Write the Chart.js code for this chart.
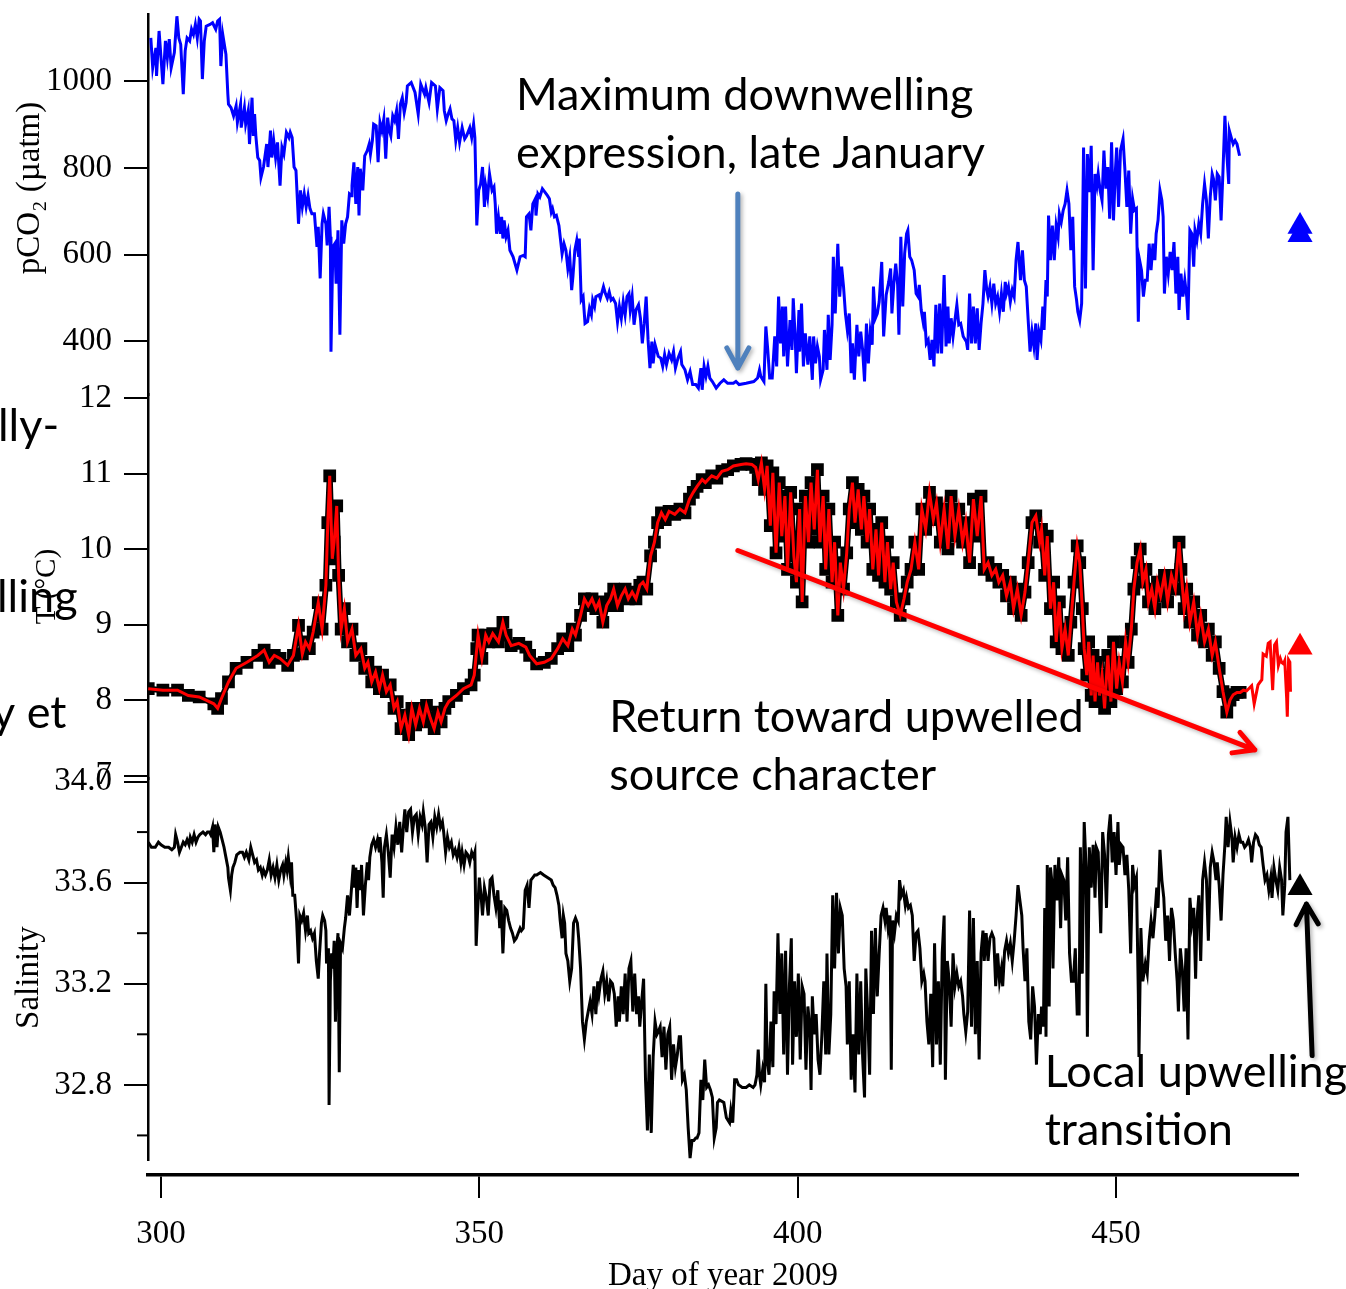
<!DOCTYPE html>
<html>
<head>
<meta charset="utf-8">
<title>pCO2, temperature and salinity, 2009</title>
<script src="https://cdn.jsdelivr.net/npm/chart.js@4.4.1/dist/chart.umd.min.js"></script>
<style>
  html, body { margin: 0; padding: 0; overflow: hidden; background: #fff; }
  #wrap { position: relative; width: 1346px; height: 1289px; overflow: hidden; }
  canvas { position: absolute; left: 0; top: 0; }
</style>
</head>
<body>
<div id="wrap"><canvas id="chart" width="1346" height="1300"></canvas></div>
<script>
// ─── DATA ─────────────────────────────────────────────────────────────
// [day of year 2009, value] pairs
const pco2Series = [
  [298.4,1100],[298.7,1031],[299.2,1077],[299.3,1012],[299.7,1116],[300.3,993],[300.7,1093],[301.0,1054],[301.3,1097],[301.6,1031],
  [302.1,1066],[302.5,1150],[302.8,1100],[303.1,1085],[303.5,970],[303.8,1070],[304.1,1100],[304.5,1093],[304.8,1120],[305.1,1108],
  [305.4,1131],[305.7,1100],[306.0,1143],[306.2,1139],[306.5,1005],[306.8,1093],[307.1,1127],[307.7,1131],[308.1,1135],[308.6,1120],
  [308.9,1139],[309.2,1143],[309.4,1035],[309.7,1108],[310.2,1062],[310.5,970],[310.6,947],[311.0,939],[311.4,920],[311.8,943],
  [312.0,905],[312.5,947],[312.6,893],[313.1,939],[313.3,901],[313.7,932],[313.9,855],[314.3,962],[314.5,874],[314.7,924],
  [314.9,874],[315.2,824],[315.5,817],[315.7,778],[316.1,802],[316.6,855],[316.8,802],[317.2,886],[317.4,824],[317.7,863],
  [318.0,824],[318.3,859],[318.7,759],[319.0,847],[319.3,832],[319.7,882],[320.1,870],[320.3,882],[320.6,870],[320.9,802],
  [321.2,794],[321.6,671],[321.9,748],[322.2,710],[322.5,740],[322.8,710],[323.1,736],[323.4,706],[323.7,694],[324.1,694],
  [324.5,618],[324.7,664],[325.0,545],[325.3,671],[325.5,694],[325.9,671],[326.1,621],[326.4,710],[326.6,641],[326.7,376],
  [327.0,618],[327.3,625],[327.5,533],[327.8,656],[328.1,415],[328.4,679],[328.7,625],[329.0,671],[329.3,687],[329.6,740],
  [329.9,736],[330.0,759],[330.3,813],[330.6,717],[330.9,802],[331.1,690],[331.3,798],[331.7,748],[332.0,828],[332.4,840],
  [332.7,855],[332.9,832],[333.2,863],[333.4,901],[333.8,897],[334.1,813],[334.4,905],[334.7,886],[335.0,913],[335.3,821],
  [335.6,916],[335.8,890],[336.1,874],[336.4,920],[336.7,909],[337.0,932],[337.3,867],[337.6,947],[337.9,962],[338.2,928],
  [338.5,951],[338.7,989],[339.3,997],[339.9,974],[340.4,924],[340.8,993],[341.4,970],[341.6,985],[342.1,951],[342.5,997],
  [343.1,989],[343.4,936],[343.8,985],[344.3,978],[344.5,932],[344.8,909],[345.1,924],[345.4,936],[345.7,913],[346.0,909],
  [346.3,863],[346.6,893],[346.9,859],[347.3,893],[347.7,867],[348.0,874],[348.5,893],[348.8,870],[349.1,901],[349.3,870],
  [349.6,667],[349.9,748],[350.2,763],[350.5,802],[350.8,710],[351.0,759],[351.3,733],[351.6,786],[352.0,748],[352.3,756],
  [352.5,717],[352.7,648],[353.0,687],[353.3,648],[353.5,687],[353.7,637],[353.9,679],[354.2,641],[354.5,656],[354.8,610],
  [355.3,595],[355.9,564],[356.4,595],[356.9,598],[357.2,595],[357.4,687],[357.8,694],[358.1,656],[358.4,717],[358.8,729],
  [358.9,690],[359.2,740],[359.5,733],[359.9,752],[360.3,744],[360.7,736],[361.0,729],[361.3,698],[361.5,706],[361.8,687],
  [362.1,690],[362.5,667],[363.0,602],[363.3,625],[363.6,610],[363.9,568],[364.2,595],[364.5,518],[364.7,549],[365.0,610],
  [365.3,633],[365.6,595],[365.7,637],[366.0,495],[366.3,503],[366.6,441],[367.0,445],[367.3,476],[367.6,461],[367.8,495],
  [368.1,480],[368.3,503],[368.8,507],[369.0,499],[369.5,526],[369.8,510],[370.1,499],[370.4,514],[370.7,495],[371.0,499],
  [371.4,487],[371.7,445],[372.0,480],[372.3,453],[372.6,491],[372.9,461],[373.2,503],[373.5,510],[373.7,472],[374.0,503],
  [374.3,438],[374.6,472],[375.0,484],[375.3,453],[375.6,395],[375.9,441],[376.2,503],[376.5,403],[376.8,338],[377.1,399],
  [377.3,349],[377.6,392],[378.1,365],[378.5,361],[378.8,342],[379.1,369],[379.4,346],[379.8,372],[380.2,357],[380.5,376],
  [380.8,338],[381.2,361],[381.6,376],[381.8,346],[382.3,334],[382.7,311],[383.1,330],[383.5,300],[384.0,300],[384.4,292],
  [384.8,338],[385.0,288],[385.3,342],[385.6,319],[385.9,342],[386.2,315],[386.6,307],[387.2,292],[387.8,303],[388.4,311],
  [389.0,303],[389.9,303],[390.3,307],[390.8,300],[391.9,303],[393.1,307],[393.7,315],[394.0,334],[394.2,319],[394.7,307],
  [395.0,434],[395.3,380],[395.6,315],[396.0,315],[396.4,411],[396.7,342],[397.0,503],[397.3,395],[397.6,480],[397.8,365],
  [398.1,480],[398.4,342],[398.8,449],[399.1,380],[399.3,499],[399.6,411],[399.8,326],[400.2,472],[400.3,376],[400.6,487],
  [400.9,342],[401.2,418],[401.6,346],[401.9,411],[402.3,311],[402.5,411],[402.8,349],[403.1,388],[403.4,365],[403.6,311],
  [404.0,334],[404.2,426],[404.6,334],[404.8,461],[405.1,357],[405.4,438],[405.6,595],[405.9,464],[406.3,625],[406.6,503],
  [406.9,572],[407.2,526],[407.5,464],[407.8,426],[408.1,464],[408.4,326],[408.6,395],[408.9,311],[409.3,438],[409.6,365],
  [409.9,422],[410.2,380],[410.5,307],[410.8,441],[411.1,349],[411.4,422],[411.7,392],[411.9,526],[412.2,453],[412.5,464],
  [412.8,491],[413.2,583],[413.5,411],[413.9,507],[414.3,537],[414.6,568],[414.8,464],[415.1,533],[415.4,579],[415.7,530],
  [415.9,415],[416.2,641],[416.5,480],[416.8,602],[417.1,648],[417.3,656],[417.6,595],[417.9,587],[418.3,564],[418.6,510],
  [418.9,503],[419.1,530],[419.4,472],[419.7,445],[419.9,468],[420.2,395],[420.5,403],[420.8,357],[421.1,403],[421.4,342],
  [421.7,484],[422.0,372],[422.3,487],[422.6,372],[423.0,553],[423.3,388],[423.6,480],[423.8,395],[424.1,453],[424.4,411],
  [424.7,449],[425.0,484],[425.3,438],[425.6,441],[426.0,411],[426.5,399],[426.7,380],[427.0,510],[427.3,395],[427.6,480],
  [427.9,395],[428.2,476],[428.5,380],[428.8,441],[429.1,487],[429.4,564],[429.7,518],[429.9,503],[430.2,526],[430.5,487],
  [430.8,533],[431.1,487],[431.4,503],[431.7,468],[432.0,510],[432.3,468],[432.6,537],[432.8,510],[433.1,526],[433.4,491],
  [433.7,518],[434.0,503],[434.3,587],[434.6,629],[435.0,541],[435.3,610],[435.6,541],[435.9,526],[436.2,449],[436.5,376],
  [436.8,422],[437.1,388],[437.4,441],[437.6,357],[437.9,422],[438.2,403],[438.5,480],[438.7,426],[439.0,541],[439.2,503],
  [439.4,690],[439.7,587],[440.0,667],[440.3,587],[440.6,667],[440.9,641],[441.1,694],[441.4,675],[441.7,702],[442.0,717],
  [442.3,748],[442.6,717],[442.9,610],[443.2,687],[443.5,526],[443.8,495],[444.0,468],[444.3,449],[444.6,487],[444.9,847],
  [445.2,522],[445.5,832],[445.8,744],[446.1,851],[446.4,564],[446.7,786],[447.0,759],[447.2,786],[447.5,748],[447.8,725],
  [448.1,840],[448.4,752],[448.7,802],[449.0,683],[449.3,859],[449.6,679],[449.9,794],[450.1,847],[450.4,710],[450.7,840],
  [451.1,867],[451.4,794],[451.7,710],[452.0,794],[452.3,648],[452.6,729],[452.9,702],[453.2,706],[453.5,445],[453.7,587],
  [454.0,564],[454.3,503],[454.6,541],[454.9,541],[455.2,625],[455.5,564],[455.8,625],[456.1,587],[456.3,648],[456.6,679],
  [456.9,748],[457.2,725],[457.4,687],[457.6,510],[457.9,595],[458.2,556],[458.5,606],[458.8,564],[459.1,629],[459.4,510],
  [459.7,595],[459.9,472],[460.2,556],[460.5,503],[460.8,541],[461.1,503],[461.3,449],[461.6,656],[461.9,648],[462.2,572],
  [462.4,656],[462.7,633],[463.0,671],[463.3,648],[463.6,717],[463.9,763],[464.2,725],[464.5,637],[464.8,733],[465.1,786],
  [465.3,775],[465.6,725],[465.9,786],[466.2,779],[466.5,679],[466.8,794],[467.1,920],[467.4,832],[467.7,763],[467.8,886],
  [468.1,870],[468.4,855],[468.7,863],[469.0,855],[469.4,828]
];

const tempSeries = [
  [298.0,8.15],[300.3,8.13],[302.6,8.13],[304.3,8.06],[306.0,8.04],[308.3,7.95],[308.9,7.89],[309.5,8.02],[310.6,8.24],[311.8,8.42],
  [313.5,8.50],[315.2,8.59],[316.2,8.66],[317.0,8.50],[317.8,8.59],[318.7,8.55],[319.9,8.46],[320.8,8.59],[321.6,8.99],[322.2,8.61],
  [322.7,8.77],[323.3,8.68],[323.9,8.90],[324.7,9.29],[325.3,8.94],[325.9,9.52],[326.2,10.35],[326.5,10.97],[326.9,9.87],[327.2,10.09],
  [327.6,10.57],[327.9,9.65],[328.3,8.94],[328.8,9.21],[329.3,8.77],[330.0,8.94],[330.6,8.59],[331.4,8.68],[332.0,8.42],[332.5,8.50],
  [333.1,8.24],[333.7,8.37],[334.3,8.15],[334.8,8.33],[335.4,8.11],[336.0,8.20],[336.6,7.89],[337.1,7.98],[337.7,7.62],[338.3,7.80],
  [338.9,7.54],[339.4,7.89],[340.0,7.67],[340.6,7.89],[341.2,7.71],[341.7,7.93],[342.3,7.76],[342.9,7.62],[343.5,7.84],[344.0,7.71],
  [344.6,7.89],[345.2,7.98],[346.4,8.06],[347.5,8.15],[348.7,8.20],[349.2,8.33],[349.6,8.68],[349.8,8.86],[350.4,8.55],[351.0,8.86],
  [351.5,8.77],[352.1,8.88],[353.0,8.77],[353.7,9.03],[354.2,8.86],[355.0,8.72],[356.2,8.75],[357.3,8.70],[357.9,8.59],[359.0,8.48],
  [360.2,8.50],[361.3,8.55],[362.3,8.68],[363.1,8.81],[363.9,8.72],[364.6,8.94],[365.1,8.86],[365.9,9.12],[366.5,9.34],[367.1,9.25],
  [367.7,9.34],[368.3,9.21],[368.8,9.30],[369.4,9.03],[370.0,9.25],[370.6,9.34],[371.1,9.47],[371.7,9.25],[372.3,9.38],[372.9,9.47],
  [373.4,9.34],[374.0,9.43],[374.6,9.34],[375.2,9.52],[375.7,9.56],[376.3,9.47],[376.9,9.91],[377.5,10.09],[378.0,10.35],[378.6,10.48],
  [379.2,10.39],[379.8,10.50],[380.7,10.46],[381.5,10.53],[382.3,10.48],[383.0,10.66],[383.6,10.75],[384.2,10.83],[385.0,10.92],[385.5,10.88],
  [386.5,10.97],[387.3,10.94],[388.1,11.03],[389.0,11.05],[389.9,11.10],[391.1,11.12],[391.9,11.13],[392.8,11.12],[393.4,11.08],[393.8,10.92],
  [394.3,11.14],[394.8,10.79],[395.2,11.10],[395.7,10.31],[396.1,11.01],[396.6,9.95],[397.1,10.88],[397.5,10.17],[398.0,10.70],[398.4,9.73],
  [398.9,10.75],[399.4,9.91],[399.8,9.56],[400.3,10.53],[400.7,9.30],[401.2,10.70],[401.7,10.09],[402.1,10.88],[402.6,10.26],[403.1,11.05],
  [403.5,10.09],[404.0,10.70],[404.4,9.73],[404.9,10.53],[405.4,9.56],[405.8,10.09],[406.3,9.12],[406.7,9.82],[407.2,9.47],[407.7,9.95],
  [408.1,10.53],[408.6,10.88],[409.0,10.35],[409.5,10.79],[410.0,10.26],[410.4,10.70],[410.9,10.09],[411.3,10.53],[411.8,9.73],[412.3,10.26],
  [412.7,9.65],[413.2,10.35],[413.7,9.56],[414.1,10.09],[414.6,9.47],[415.0,9.82],[415.5,9.30],[416.1,9.12],[416.7,9.34],[417.2,9.56],
  [417.8,9.73],[418.4,10.09],[419.0,9.73],[419.5,10.53],[420.1,10.26],[420.7,10.75],[421.3,10.39],[421.8,10.61],[422.4,10.09],[423.0,10.53],
  [423.6,10.00],[424.1,10.70],[424.7,10.17],[425.3,10.53],[425.9,10.09],[426.4,10.35],[427.0,9.82],[427.6,10.66],[428.2,10.17],[428.8,10.70],
  [429.3,9.73],[429.9,9.82],[430.5,9.65],[431.1,9.73],[431.6,9.56],[432.2,9.65],[432.8,9.38],[433.4,9.56],[433.9,9.21],[434.5,9.47],
  [435.1,9.12],[435.7,9.43],[436.2,9.82],[436.8,10.35],[437.4,10.44],[438.0,10.09],[438.3,10.26],[438.8,9.65],[439.2,10.17],[439.7,9.21],
  [440.2,9.56],[440.6,8.77],[441.1,9.30],[441.5,8.68],[442.0,8.94],[442.5,8.59],[442.9,9.03],[443.4,9.56],[443.9,10.04],[444.3,9.82],
  [444.7,9.21],[445.0,8.68],[445.4,8.33],[445.7,8.77],[446.1,8.06],[446.4,8.59],[446.7,7.98],[447.1,8.50],[447.4,8.06],[447.8,8.33],
  [448.2,7.89],[448.7,8.59],[449.2,7.98],[449.6,8.77],[450.1,8.15],[450.5,8.50],[451.0,8.24],[451.5,8.77],[451.9,8.50],[452.4,8.94],
  [452.8,9.47],[453.3,9.82],[453.8,10.00],[454.2,9.56],[454.7,9.73],[455.1,9.30],[455.6,9.47],[456.1,9.21],[456.5,9.56],[457.0,9.38],
  [457.6,9.65],[458.1,9.30],[458.7,9.65],[459.3,9.47],[459.9,10.09],[460.2,9.73],[460.7,9.21],[461.1,9.47],[461.6,9.03],[462.2,9.30],
  [462.8,8.86],[463.3,9.12],[463.9,8.77],[464.5,8.94],[465.1,8.59],[465.6,8.77],[466.2,8.42],[466.8,8.11],[467.4,7.84],[467.9,8.00],
  [468.4,8.07],[469.0,8.10],[469.5,8.10],[470.0,8.13],[470.5,8.12],[471.3,8.19],[471.7,7.95],[472.3,8.20],[472.9,8.27],[473.1,8.61],
  [473.6,8.58],[473.9,8.75],[474.2,8.77],[474.6,8.13],[474.9,8.73],[475.2,8.77],[475.5,8.46],[475.8,8.55],[476.0,8.50],[476.3,8.48],
  [476.5,8.52],[476.8,8.02],[476.9,7.78],[477.1,8.53],[477.3,8.50],[477.4,8.11]
];
// the black outline of the temperature trace stops before the red one does
const tempOutlineEnd = 469.9;

const salinitySeries = [
  [298.0,33.76],[298.5,33.74],[299.1,33.74],[299.6,33.76],[300.0,33.75],[300.6,33.74],[301.2,33.74],[301.7,33.73],[302.1,33.74],[302.3,33.79],
  [302.6,33.76],[302.9,33.72],[303.2,33.74],[303.5,33.76],[303.8,33.75],[304.1,33.77],[304.4,33.75],[304.6,33.78],[304.9,33.76],[305.2,33.79],
  [305.5,33.76],[305.8,33.78],[306.1,33.79],[306.6,33.80],[307.0,33.79],[307.3,33.80],[307.6,33.80],[307.8,33.79],[308.1,33.82],[308.3,33.72],
  [308.5,33.83],[308.8,33.74],[309.0,33.82],[309.3,33.80],[309.6,33.77],[309.9,33.74],[310.2,33.70],[310.5,33.66],[310.6,33.62],[310.9,33.57],
  [311.1,33.63],[311.3,33.66],[311.6,33.68],[311.9,33.71],[312.4,33.72],[312.8,33.72],[313.1,33.70],[313.4,33.72],[313.8,33.69],[314.1,33.74],
  [314.4,33.71],[314.7,33.68],[315.0,33.69],[315.3,33.65],[315.6,33.66],[315.9,33.63],[316.1,33.65],[316.4,33.63],[316.7,33.65],[317.0,33.69],
  [317.3,33.63],[317.6,33.66],[317.9,33.62],[318.2,33.67],[318.5,33.61],[318.8,33.65],[319.1,33.67],[319.3,33.63],[319.6,33.68],[319.8,33.65],
  [320.0,33.70],[320.3,33.63],[320.5,33.68],[320.7,33.55],[321.0,33.55],[321.3,33.45],[321.6,33.28],[321.8,33.47],[322.1,33.45],[322.4,33.48],
  [322.7,33.41],[323.0,33.47],[323.2,33.40],[323.5,33.41],[323.8,33.38],[324.1,33.40],[324.4,33.29],[324.7,33.22],[324.9,33.32],[325.2,33.44],
  [325.4,33.47],[325.7,33.45],[325.9,33.41],[326.0,33.28],[326.3,33.34],[326.4,32.72],[326.6,33.21],[326.8,33.32],[327.0,33.26],[327.2,33.37],
  [327.4,33.05],[327.6,33.33],[327.8,33.40],[328.0,32.85],[328.2,33.36],[328.5,33.34],[328.8,33.42],[329.0,33.46],[329.3,33.55],[329.6,33.47],
  [329.9,33.57],[330.2,33.67],[330.4,33.58],[330.6,33.66],[330.8,33.50],[331.0,33.65],[331.3,33.57],[331.5,33.67],[331.8,33.47],[332.1,33.59],
  [332.4,33.68],[332.6,33.61],[332.8,33.70],[333.1,33.75],[333.4,33.77],[333.7,33.74],[334.0,33.77],[334.3,33.72],[334.4,33.78],[334.7,33.68],
  [334.9,33.54],[335.1,33.74],[335.4,33.79],[335.7,33.72],[336.0,33.62],[336.3,33.79],[336.6,33.74],[336.9,33.82],[337.2,33.75],[337.5,33.84],
  [337.8,33.72],[338.1,33.83],[338.3,33.89],[338.6,33.80],[338.9,33.88],[339.2,33.89],[339.5,33.80],[339.8,33.86],[340.1,33.87],[340.4,33.79],
  [340.7,33.86],[341.0,33.83],[341.2,33.88],[341.5,33.82],[341.8,33.68],[342.1,33.83],[342.4,33.84],[342.7,33.78],[343.0,33.86],[343.3,33.82],
  [343.6,33.87],[343.9,33.82],[344.2,33.84],[344.4,33.80],[344.7,33.72],[345.0,33.78],[345.3,33.74],[345.6,33.76],[345.9,33.71],[346.2,33.73],
  [346.5,33.70],[346.8,33.74],[347.1,33.68],[347.3,33.72],[347.6,33.67],[347.9,33.72],[348.2,33.71],[348.5,33.68],[348.8,33.72],[349.1,33.70],
  [349.3,33.72],[349.5,33.35],[349.7,33.47],[350.0,33.62],[350.3,33.54],[350.5,33.47],[350.8,33.58],[351.1,33.54],[351.4,33.47],[351.7,33.61],
  [352.0,33.62],[352.3,33.55],[352.6,33.50],[352.9,33.57],[353.2,33.42],[353.4,33.53],[353.7,33.32],[354.0,33.50],[354.3,33.49],[354.6,33.45],
  [354.9,33.42],[355.2,33.40],[355.5,33.37],[355.8,33.38],[356.1,33.40],[356.4,33.42],[356.6,33.41],[356.9,33.42],[357.2,33.57],[357.5,33.59],
  [357.8,33.50],[358.1,33.61],[358.4,33.62],[358.7,33.63],[359.0,33.63],[359.6,33.64],[360.1,33.63],[360.7,33.62],[361.3,33.61],[361.6,33.59],
  [361.9,33.58],[362.2,33.55],[362.5,33.51],[362.7,33.45],[363.0,33.38],[363.2,33.47],[363.4,33.44],[363.6,33.32],[363.9,33.29],[364.2,33.21],
  [364.5,33.26],[364.8,33.44],[365.1,33.46],[365.4,33.44],[365.6,33.38],[365.9,33.26],[366.2,33.05],[366.5,32.98],[366.8,33.05],[367.1,33.09],
  [367.4,33.13],[367.7,33.08],[368.0,33.19],[368.3,33.08],[368.6,33.21],[368.8,33.16],[369.1,33.22],[369.4,33.25],[369.7,33.16],[370.0,33.21],
  [370.3,33.13],[370.6,33.21],[370.9,33.20],[371.2,33.16],[371.5,33.03],[371.8,33.15],[372.0,33.05],[372.3,33.19],[372.6,33.08],[372.9,33.24],
  [373.2,33.05],[373.5,33.26],[373.8,33.29],[374.1,33.09],[374.4,33.24],[374.7,33.08],[375.0,33.15],[375.2,33.03],[375.5,33.13],[375.8,33.22],
  [376.1,32.82],[376.4,32.62],[376.7,32.92],[377.0,32.61],[377.3,32.91],[377.6,33.05],[377.9,33.00],[378.1,33.01],[378.4,33.03],[378.7,32.91],
  [379.0,33.03],[379.3,32.86],[379.6,33.00],[379.9,33.03],[380.2,32.82],[380.5,32.96],[380.8,32.87],[381.1,32.92],[381.4,32.99],[381.6,32.99],
  [381.9,32.82],[382.2,32.84],[382.5,32.78],[382.8,32.63],[383.1,32.51],[383.4,32.58],[383.7,32.58],[384.0,32.59],[384.2,32.59],[384.5,32.61],
  [384.8,32.82],[385.1,32.74],[385.4,32.90],[385.7,32.79],[386.0,32.80],[386.3,32.78],[386.6,32.75],[386.9,32.59],[387.2,32.63],[387.4,32.73],
  [387.7,32.74],[388.4,32.73],[388.8,32.67],[389.3,32.65],[389.5,32.70],[389.8,32.65],[390.1,32.82],[390.4,32.82],[390.7,32.80],[391.3,32.79],
  [391.9,32.79],[392.4,32.80],[393.0,32.79],[393.3,32.80],[393.6,32.84],[393.8,32.94],[394.0,32.84],[394.2,32.80],[394.5,32.86],[394.8,32.81],
  [395.0,33.20],[395.2,32.90],[395.5,32.84],[395.8,33.05],[396.1,32.87],[396.3,33.17],[396.6,33.04],[396.9,33.40],[397.2,33.08],[397.5,33.32],
  [397.8,32.92],[398.1,33.33],[398.4,32.84],[398.7,33.19],[399.0,33.38],[399.2,32.88],[399.5,33.21],[399.8,32.99],[400.1,33.24],[400.4,32.90],
  [400.7,33.19],[401.0,33.16],[401.3,32.86],[401.6,33.11],[401.9,33.03],[402.1,32.78],[402.3,33.15],[402.6,33.00],[402.9,33.08],[403.2,32.90],
  [403.5,32.84],[403.8,33.00],[404.1,33.21],[404.4,32.92],[404.6,33.32],[404.9,32.92],[405.2,33.08],[405.5,33.55],[405.8,33.26],[406.1,33.56],
  [406.4,33.32],[406.7,33.50],[407.0,33.47],[407.3,33.26],[407.6,33.19],[407.8,32.96],[408.1,33.21],[408.4,32.82],[408.7,33.00],[409.0,32.77],
  [409.3,33.24],[409.6,32.92],[409.9,33.21],[410.2,32.91],[410.5,32.75],[410.7,33.26],[411.0,33.08],[411.3,32.84],[411.6,33.41],[411.9,33.08],
  [412.2,33.42],[412.5,33.15],[412.8,33.32],[413.1,33.47],[413.4,33.50],[413.7,33.45],[413.9,33.50],[414.2,33.42],[414.5,33.47],[414.7,32.86],
  [414.9,33.45],[415.2,33.40],[415.5,33.47],[415.8,33.45],[416.0,33.61],[416.3,33.55],[416.6,33.57],[416.9,33.51],[417.1,33.54],[417.4,33.50],
  [417.7,33.51],[418.0,33.47],[418.3,33.29],[418.6,33.40],[418.9,33.41],[419.2,33.34],[419.5,33.21],[419.8,33.24],[420.0,33.21],[420.3,33.05],
  [420.6,32.96],[420.9,33.16],[421.2,32.87],[421.5,33.36],[421.8,32.96],[422.1,33.21],[422.4,32.88],[422.7,33.32],[423.0,33.47],[423.2,32.82],
  [423.5,33.29],[423.8,33.21],[424.1,33.03],[424.4,33.32],[424.7,33.19],[425.0,33.24],[425.3,33.19],[425.6,33.21],[425.9,33.15],[426.1,33.08],
  [426.4,33.01],[426.7,33.09],[427.0,33.49],[427.3,33.03],[427.6,33.46],[427.9,33.00],[428.2,33.29],[428.5,32.90],[428.8,33.32],[429.1,33.41],
  [429.3,33.29],[429.6,33.40],[429.9,33.29],[430.2,33.38],[430.5,33.40],[430.8,33.38],[431.1,33.19],[431.4,33.32],[431.7,33.21],[432.0,33.26],
  [432.2,33.19],[432.5,33.33],[432.8,33.37],[433.1,33.32],[433.4,33.36],[433.7,33.29],[434.0,33.37],[434.3,33.47],[434.6,33.59],[434.9,33.53],
  [435.2,33.47],[435.4,33.34],[435.7,33.21],[436.0,33.34],[436.3,33.05],[436.6,32.98],[436.9,33.19],[437.2,33.11],[437.5,32.88],[437.8,33.08],
  [438.1,33.00],[438.3,33.11],[438.6,33.03],[438.8,33.50],[439.0,32.99],[439.2,33.67],[439.5,33.11],[439.7,33.66],[439.9,33.61],[440.1,33.26],
  [440.4,33.67],[440.7,33.53],[441.0,33.70],[441.3,33.42],[441.5,33.63],[441.8,33.61],[442.1,33.45],[442.4,33.70],[442.7,33.32],[443.0,33.21],
  [443.3,33.21],[443.6,33.34],[443.9,33.08],[444.2,33.08],[444.4,33.74],[444.7,33.24],[445.0,33.84],[445.3,33.66],[445.5,32.99],[445.8,33.74],
  [446.1,33.58],[446.4,33.75],[446.7,33.54],[446.9,33.74],[447.2,33.72],[447.6,33.40],[447.9,33.80],[448.2,33.71],[448.5,33.50],[448.8,33.79],
  [449.1,33.87],[449.4,33.68],[449.7,33.80],[450.0,33.63],[450.3,33.84],[450.5,33.67],[450.8,33.75],[451.1,33.74],[451.4,33.63],[451.7,33.71],
  [452.0,33.57],[452.3,33.32],[452.6,33.67],[452.9,33.59],[453.2,33.62],[453.5,33.16],[453.6,32.91],[453.9,33.42],[454.2,33.21],[454.6,33.28],
  [454.9,33.24],[455.2,33.37],[455.5,33.45],[455.8,33.38],[456.1,33.47],[456.4,33.58],[456.6,33.50],[456.9,33.73],[457.2,33.61],[457.5,33.54],
  [457.8,33.37],[458.1,33.47],[458.4,33.29],[458.7,33.50],[459.0,33.45],[459.3,33.32],[459.6,33.21],[459.8,33.09],[460.1,33.34],[460.4,33.26],
  [460.7,33.09],[461.0,33.34],[461.3,32.98],[461.6,33.54],[461.9,33.44],[462.2,33.50],[462.5,33.22],[462.7,33.45],[463.0,33.55],[463.3,33.29],
  [463.6,33.61],[463.9,33.68],[464.2,33.61],[464.5,33.37],[464.8,33.66],[465.1,33.72],[465.4,33.68],[465.7,33.61],[465.9,33.68],[466.2,33.59],
  [466.5,33.45],[466.8,33.63],[467.1,33.75],[467.3,33.86],[467.6,33.74],[467.9,33.84],[468.2,33.78],[468.4,33.68],[468.7,33.78],[469.0,33.74],
  [469.3,33.79],[469.6,33.76],[469.9,33.76],[470.2,33.74],[470.5,33.75],[470.8,33.77],[471.1,33.74],[471.3,33.68],[471.6,33.76],[471.9,33.79],
  [472.2,33.78],[472.5,33.75],[472.8,33.74],[473.1,33.67],[473.4,33.61],[473.7,33.63],[474.0,33.57],[474.3,33.62],[474.5,33.54],[474.8,33.66],
  [475.1,33.61],[475.4,33.57],[475.7,33.66],[476.0,33.61],[476.2,33.47],[476.5,33.59],[476.7,33.80],[477.0,33.86],[477.3,33.61]
];

// upwelled source-water reference values, drawn as triangles past the record
const sourceDay = 478.9;
const sourcePco2 = [665, 646];
const sourceTemp = [8.70];
const sourceSalinity = [33.58];

// axis ranges and tick labels
const dayRange = [297.96, 478.58];
const dayTicks = [300, 350, 400, 450];
const pco2Range = [277, 1154];
const pco2Ticks = [400, 600, 800, 1000];
const tempRange = [6.960, 12.046];
const tempTicks = [7, 8, 9, 10, 11, 12];
const salinityRange = [32.5025, 34.0118];
const salinityTicks = [32.8, 33.2, 33.6, 34.0];
const salinityMinorTicks = [32.6, 33.0, 33.4, 33.8];

// ─── STYLE ────────────────────────────────────────────────────────────
const SERIF = "'Liberation Serif', 'DejaVu Serif', serif";
const SANS = "Lato, 'Open Sans', sans-serif";
const tickFont = { family: SERIF, size: 33 };
const titleFont = { family: SERIF, size: 33 };

const notes = [
  { axis: 'yCO2', day: 355.76, value: 933, lines: ['Maximum downwelling', 'expression, late January'] },
  { axis: 'yT', day: 370.4, value: 7.57, lines: ['Return toward upwelled', 'source character'] },
  { axis: 'yS', day: 438.8, value: 32.79, lines: ['Local upwelling', 'transition'] },
];
const arrows = [
  { axis: 'yCO2', from: [390.6, 740], to: [390.6, 338], color: '#4f81bd' },
  { axis: 'yT', from: [390.6, 9.98], to: [471.8, 7.34], color: '#ff0000' },
  { axis: 'yS', from: [480.8, 32.916], to: [479.9, 33.515], color: '#000000' },
];
// bits of slide text that run off the left edge
const sideText = [
  { text: 'lly-', x: -2, y: 441 },
  { text: 'lling', x: -3, y: 612 },
  { text: 'y et', x: -8, y: 728 },
];

const xy = pairs => pairs.map(([x, y]) => ({ x, y }));

function drawArrow(ctx, x1, y1, x2, y2, color) {
  const ang = Math.atan2(y2 - y1, x2 - x1);
  const head = 23, spread = 0.5;
  ctx.save();
  ctx.strokeStyle = color;
  ctx.lineWidth = 5;
  ctx.lineCap = 'round';
  ctx.lineJoin = 'round';
  ctx.shadowColor = 'rgba(0,0,0,0.3)';
  ctx.shadowBlur = 4;
  ctx.shadowOffsetX = 2;
  ctx.shadowOffsetY = 2;
  ctx.beginPath();
  ctx.moveTo(x1, y1);
  ctx.lineTo(x2, y2);
  ctx.moveTo(x2 - head * Math.cos(ang - spread), y2 - head * Math.sin(ang - spread));
  ctx.lineTo(x2, y2);
  ctx.lineTo(x2 - head * Math.cos(ang + spread), y2 - head * Math.sin(ang + spread));
  ctx.stroke();
  ctx.restore();
}

const minorTicks = {
  id: 'minorTicks',
  afterDraw(chart) {
    const s = chart.scales.yS, ctx = chart.ctx;
    ctx.save();
    ctx.strokeStyle = '#000';
    ctx.lineWidth = 2;
    salinityMinorTicks.forEach(v => {
      const y = s.getPixelForValue(v);
      ctx.beginPath();
      ctx.moveTo(s.right - 11, y);
      ctx.lineTo(s.right, y);
      ctx.stroke();
    });
    ctx.restore();
  }
};

const annotations = {
  id: 'annotations',
  afterDraw(chart) {
    const { ctx, scales } = chart;
    const x = scales.x;
    ctx.save();
    ctx.font = `45px ${SANS}`;
    ctx.fillStyle = '#000';
    ctx.textBaseline = 'alphabetic';
    notes.forEach(n => {
      const y0 = scales[n.axis].getPixelForValue(n.value);
      n.lines.forEach((t, i) => ctx.fillText(t, x.getPixelForValue(n.day), y0 + i * 58));
    });
    sideText.forEach(s => ctx.fillText(s.text, s.x, s.y));
    ctx.restore();
    arrows.forEach(a => {
      const y = scales[a.axis];
      drawArrow(ctx, x.getPixelForValue(a.from[0]), y.getPixelForValue(a.from[1]),
        x.getPixelForValue(a.to[0]), y.getPixelForValue(a.to[1]), a.color);
    });
  }
};

// one y axis per panel, stacked down the left side
function panelAxis(range, ticks, weight, order, title, font, titlePad, fmt) {
  return {
    type: 'linear', position: 'left', stack: 'panels', stackWeight: weight, weight: order,
    min: range[0], max: range[1],
    border: { color: '#000', width: 2.5 },
    grid: { drawOnChartArea: false, color: '#000', lineWidth: 2, tickLength: 24 },
    ticks: { font: tickFont, color: '#000', padding: 12, callback: fmt || (v => v) },
    title: { display: true, text: title, font, color: '#000', padding: { top: titlePad, bottom: 0 } },
    afterBuildTicks: s => { s.ticks = ticks.map(value => ({ value })); },
    afterFit: s => { s.width = 148; s.paddingTop = 0; s.paddingBottom = 0; },
  };
}

new Chart(document.getElementById('chart'), {
  type: 'line',
  data: {
    datasets: [
      { data: xy(pco2Series), yAxisID: 'yCO2', borderColor: '#0000ff', borderWidth: 3, pointRadius: 0, order: 1 },
      { data: xy(tempSeries), yAxisID: 'yT', borderColor: '#ff0000', borderWidth: 3, pointRadius: 0, order: 1 },
      { data: xy(tempSeries.filter(p => p[0] <= tempOutlineEnd)), yAxisID: 'yT', borderColor: '#000', borderWidth: 6,
        borderJoinStyle: 'bevel', pointStyle: 'rect', pointRadius: 9, pointBackgroundColor: '#000', pointBorderWidth: 0, order: 2 },
      { data: xy(salinitySeries), yAxisID: 'yS', borderColor: '#000', borderWidth: 3, pointRadius: 0, order: 1 },
      { data: sourcePco2.map(y => ({ x: sourceDay, y })), yAxisID: 'yCO2', showLine: false, pointStyle: 'triangle',
        pointRadius: 14.5, pointBackgroundColor: '#0000ff', pointBorderWidth: 0, clip: false, order: 0 },
      { data: sourceTemp.map(y => ({ x: sourceDay, y })), yAxisID: 'yT', showLine: false, pointStyle: 'triangle',
        pointRadius: 14.5, pointBackgroundColor: '#ff0000', pointBorderWidth: 0, clip: false, order: 0 },
      { data: sourceSalinity.map(y => ({ x: sourceDay, y })), yAxisID: 'yS', showLine: false, pointStyle: 'triangle',
        pointRadius: 14.5, pointBackgroundColor: '#000', pointBorderWidth: 0, clip: false, order: 0 },
    ],
  },
  options: {
    responsive: false,
    animation: false,
    devicePixelRatio: 1,
    layout: { padding: { top: 10, left: 0, right: 48, bottom: 0 } },
    plugins: { legend: { display: false }, tooltip: { enabled: false } },
    elements: { line: { tension: 0 } },
    scales: {
      x: {
        type: 'linear', position: 'bottom', min: dayRange[0], max: dayRange[1],
        border: { color: '#000', width: 3.5 },
        grid: { drawOnChartArea: false, color: '#000', lineWidth: 2, tickLength: 23 },
        ticks: { font: tickFont, color: '#000', padding: 17 },
        title: { display: true, text: 'Day of year 2009', font: titleFont, color: '#000', padding: { top: 0, bottom: 4 } },
        afterBuildTicks: s => { s.ticks = dayTicks.map(value => ({ value })); },
        afterFit: s => { s.height = 125; s.paddingLeft = 0; s.paddingRight = 0; },
      },
      yCO2: panelAxis(pco2Range, pco2Ticks, 381.5, 4, '    pCO\u2082 (\u00b5atm)', titleFont, 11),
      yT: panelAxis(tempRange, tempTicks, 385.5, 3, 'T (°C)', { family: SERIF, size: 29 }, 30),
      yS: panelAxis(salinityRange, salinityTicks, 383, 2, 'Salinity  ', titleFont, 10, v => v.toFixed(1)),
      yGap: {
        type: 'linear', position: 'left', stack: 'panels', stackWeight: 15, weight: 1,
        border: { display: false }, grid: { display: false }, ticks: { display: false },
        afterFit: s => { s.width = 148; s.paddingTop = 0; s.paddingBottom = 0; },
      },
    },
  },
  plugins: [minorTicks, annotations],
});
</script>
</body>
</html>
